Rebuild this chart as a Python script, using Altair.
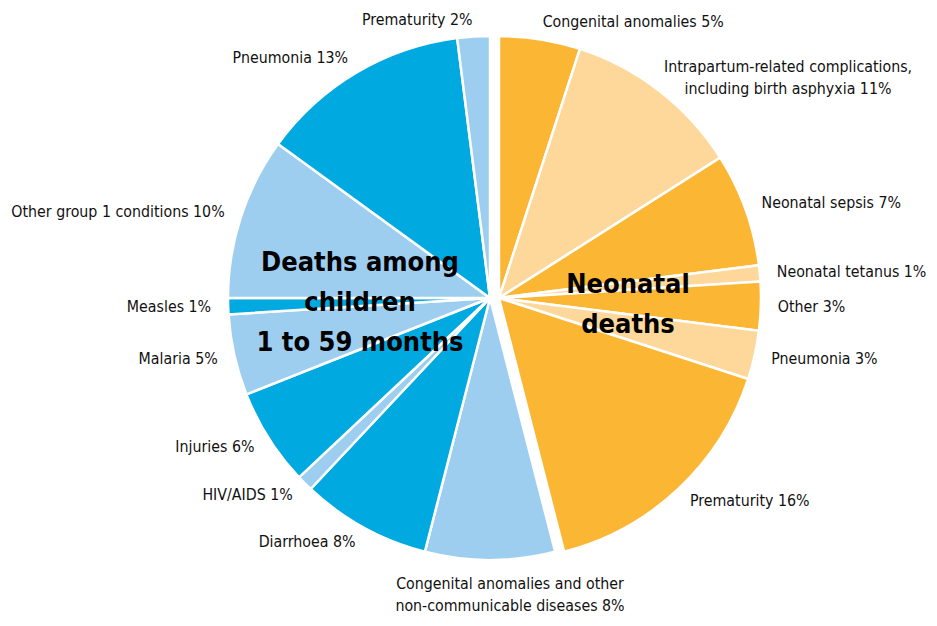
import altair as alt
import pandas as pd

# ---- data ----
neo_causes = [
    "Congenital anomalies",
    "Intrapartum-related complications,\nincluding birth asphyxia",
    "Neonatal sepsis",
    "Neonatal tetanus",
    "Other",
    "Pneumonia",
    "Prematurity",
]
neo_values = [5, 11, 7, 1, 3, 3, 16]

child_causes = [
    "Congenital anomalies and other\nnon-communicable diseases",
    "Diarrhoea",
    "HIV/AIDS",
    "Injuries",
    "Malaria",
    "Measles",
    "Other group 1 conditions",
    "Pneumonia",
    "Prematurity",
]
child_values = [8, 8, 1, 6, 5, 1, 10, 13, 2]

group_titles = ["Neonatal\ndeaths", "Deaths among\nchildren\n1 to 59 months"]

# ---- table ----
rows = []
order = 0
for grp, causes, values in (("neo", neo_causes, neo_values), ("child", child_causes, child_values)):
    for i, (c, v) in enumerate(zip(causes, values)):
        rows.append({
            "group": grp,
            "cause": c,
            "value": v,
            "order": order,
            "tone": f"{grp}{i % 2}",
            "label": f"{c} {v}%",
        })
        order += 1
df = pd.DataFrame(rows)

FONT = "Liberation Sans Narrow, DejaVu Sans Condensed, Roboto, sans-serif"
R = 262
LR = 279
CX_CHILD, CX_NEO, CY = 482, 491, 290

theta_scale = alt.Scale(domain=[0, 100], range=[0, 6.283185307179586])
color = alt.Color(
    "tone:N",
    scale=alt.Scale(
        domain=["neo0", "neo1", "child0", "child1"],
        range=["#FBB634", "#FED89B", "#9DCEF0", "#00A9E0"],
    ),
    legend=None,
)

base = alt.Chart(df).transform_window(
    cum="sum(value)", sort=[alt.SortField("order")], frame=[None, 0]
).transform_calculate(
    start="datum.cum - datum.value",
    mid="datum.cum - datum.value / 2",
    multi="indexof(datum.label, '\\n') >= 0",
)

def arcs(grp, cx):
    return base.transform_filter(alt.datum.group == grp).mark_arc(
        outerRadius=R, stroke="white", strokeWidth=2.5
    ).encode(
        theta=alt.Theta("start:Q", scale=theta_scale, stack=False),
        theta2="cum:Q",
        color=color,
        x=alt.value(cx),
        y=alt.value(CY),
    )

def labels(cond, cx, **kw):
    return base.transform_filter(cond).mark_text(
        radius=LR, font=FONT, fontSize=15.8, color="#111111",
        lineBreak="\n", lineHeight=22, **kw
    ).encode(
        theta=alt.Theta("mid:Q", scale=theta_scale, stack=False),
        text="label:N",
        x=alt.value(cx),
        y=alt.value(CY),
    )

right_labels = labels("datum.mid < 50 && !datum.multi", CX_NEO, align="left", baseline="middle")
right_multi = labels("datum.mid < 50 && datum.multi", CX_NEO, align="center", baseline="middle", dx=118, dy=-11)
left_labels = labels("datum.mid > 50", CX_CHILD, align="right", baseline="middle")
bottom_labels = labels("datum.mid == 50", CX_CHILD, align="center", baseline="top", dx=20)

def title_text(txt, x, y):
    return alt.Chart(pd.DataFrame({"t": [txt]})).mark_text(
        font=FONT, fontSize=27, fontWeight="bold", color="#000000",
        lineBreak="\n", lineHeight=40, align="center", baseline="middle",
    ).encode(text="t:N", x=alt.value(x), y=alt.value(y))

chart = alt.layer(
    arcs("child", CX_CHILD),
    arcs("neo", CX_NEO),
    right_labels,
    right_multi,
    left_labels,
    bottom_labels,
    title_text(group_titles[1], 352, 255),
    title_text(group_titles[0], 620, 277),
).properties(
    width=921, height=610, autosize="none", padding=0
).configure_view(stroke=None)

chart.save("out.html", embed_options={"renderer": "svg", "actions": False})
